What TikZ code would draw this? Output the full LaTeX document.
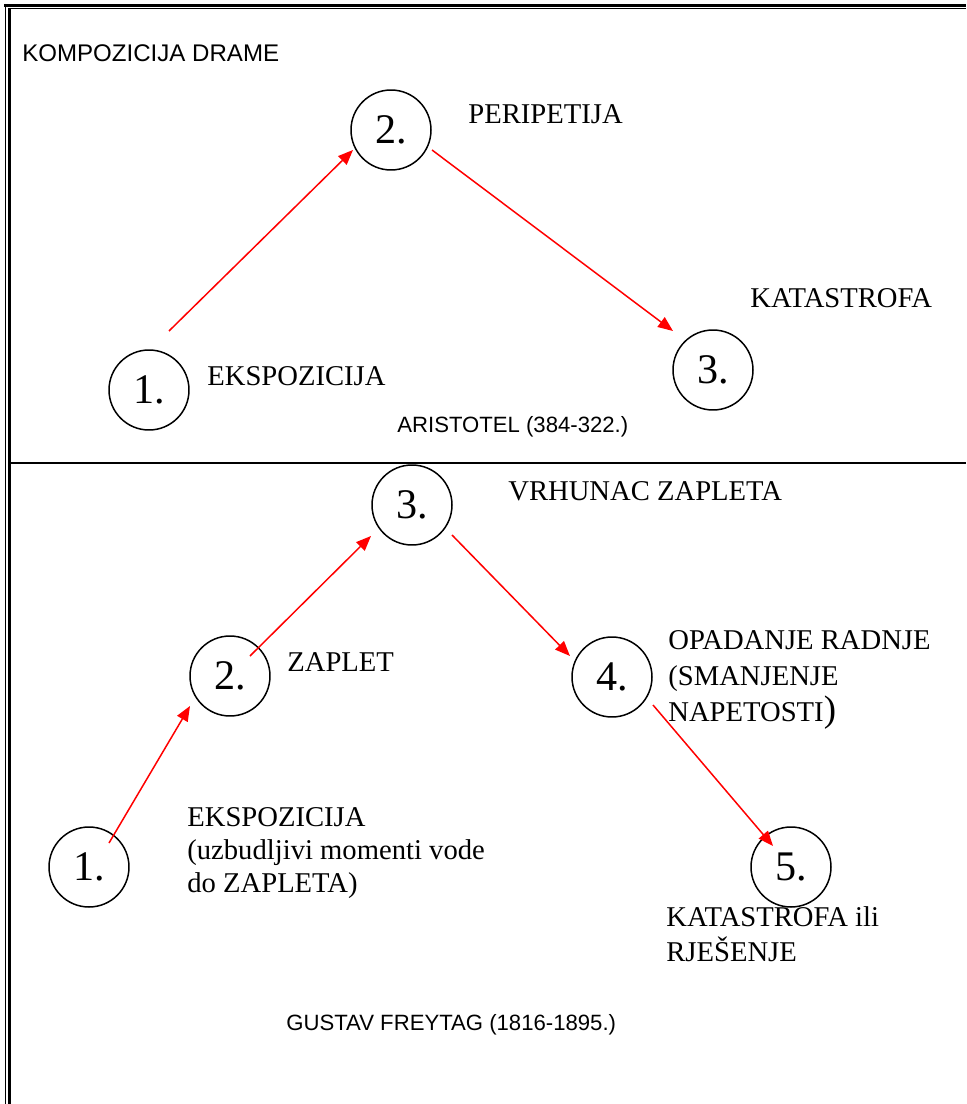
\documentclass[tikz,border=0pt]{standalone}
\usepackage{fontspec}
\setmainfont{Liberation Serif}
\setsansfont{Liberation Sans}
\usetikzlibrary{arrows.meta,positioning,calc}

\begin{document}
\begin{tikzpicture}[x=0.02cm,y=-0.02cm,>={Triangle[length=0.3cm,width=0.24cm]},
   nd/.style={circle,draw,line width=0.03cm,minimum size=1.6cm,inner sep=0pt,
     font=\fontsize{24}{28}\selectfont},
   lbl/.style={anchor=base west,inner sep=0pt,align=left,
     font=\fontsize{16.3}{19.6}\selectfont},
   ttl/.style={anchor=base west,inner sep=0pt,font=\sffamily\fontsize{12.6}{15}\selectfont},
   arr/.style={->,red,line width=0.03cm}]
  \useasboundingbox (0,0) rectangle (966,1104);
  % frame and divider
  \draw[line width=0.06cm] (4,5.5) -- (966,5.5);
  \draw[line width=0.025cm] (8,8.7) -- (966,8.7);
  \draw[line width=0.025cm] (5.5,4) -- (5.5,1104);
  \draw[line width=0.06cm] (9.5,8) -- (9.5,1104);
  \draw[line width=0.05cm] (11,463) -- (966,463);

  \node[ttl,font=\sffamily\fontsize{13.7}{16}\selectfont] (title) at (22,62) {KOMPOZICIJA DRAME};

  % Aristotel
  \node[nd] (a1) at (149,390) {1.};
  \node[nd] (a2) at (391,130) {2.};
  \node[nd] (a3) at (713,370) {3.};
  \node[lbl] (peri) at (468,124) {PERIPETIJA};
  \node[lbl] (kata) at (750,308) {KATASTROFA};
  \node[lbl] (ekspa) at (207,385) {EKSPOZICIJA};
  \node[ttl] (arist) at (397,432) {ARISTOTEL (384-322.)};
  \draw[arr] ($(a1)+(20,-59)$) -- ($(a2)+(-38,20)$);
  \draw[arr] ($(a2)+(41,20)$) -- ($(a3)+(-40,-39)$);

  % Freytag
  \node[nd] (b1) at (89,867) {1.};
  \node[nd] (b2) at (230,676) {2.};
  \node[nd] (b3) at (412,505) {3.};
  \node[nd] (b4) at (612,677) {4.};
  \node[nd] (b5) at (791,867) {5.};
  \node[lbl] (vrh) at (508,500) {VRHUNAC ZAPLETA};
  \node[lbl] (zap) at (287,671) {ZAPLET};
  \node[lbl,font=\fontsize{16.3}{20.4}\selectfont] (opad) at (668,721)
    {OPADANJE RADNJE\\(SMANJENJE\\NAPETOSTI{\fontsize{21}{21}\selectfont)}};
  \node[lbl,font=\fontsize{16.3}{18.7}\selectfont] (ekspb) at (187,892)
    {EKSPOZICIJA\\(uzbudljivi momenti vode\\do ZAPLETA)};
  \node[lbl] (katb) at (666,961) {KATASTROFA ili\\RJEŠENJE};
  \node[ttl] (freyt) at (286,1030) {GUSTAV FREYTAG (1816-1895.)};
  \draw[arr] ($(b1)+(20,-24)$) -- ($(b2)+(-40,30)$);
  \draw[arr] ($(b2)+(20,-20)$) -- ($(b3)+(-41,31)$);
  \draw[arr] ($(b3)+(40,30)$) -- ($(b4)+(-42,-21)$);
  \draw[arr] ($(b4)+(41,28)$) -- ($(b5)+(-18,-21)$);
\end{tikzpicture}
\end{document}
